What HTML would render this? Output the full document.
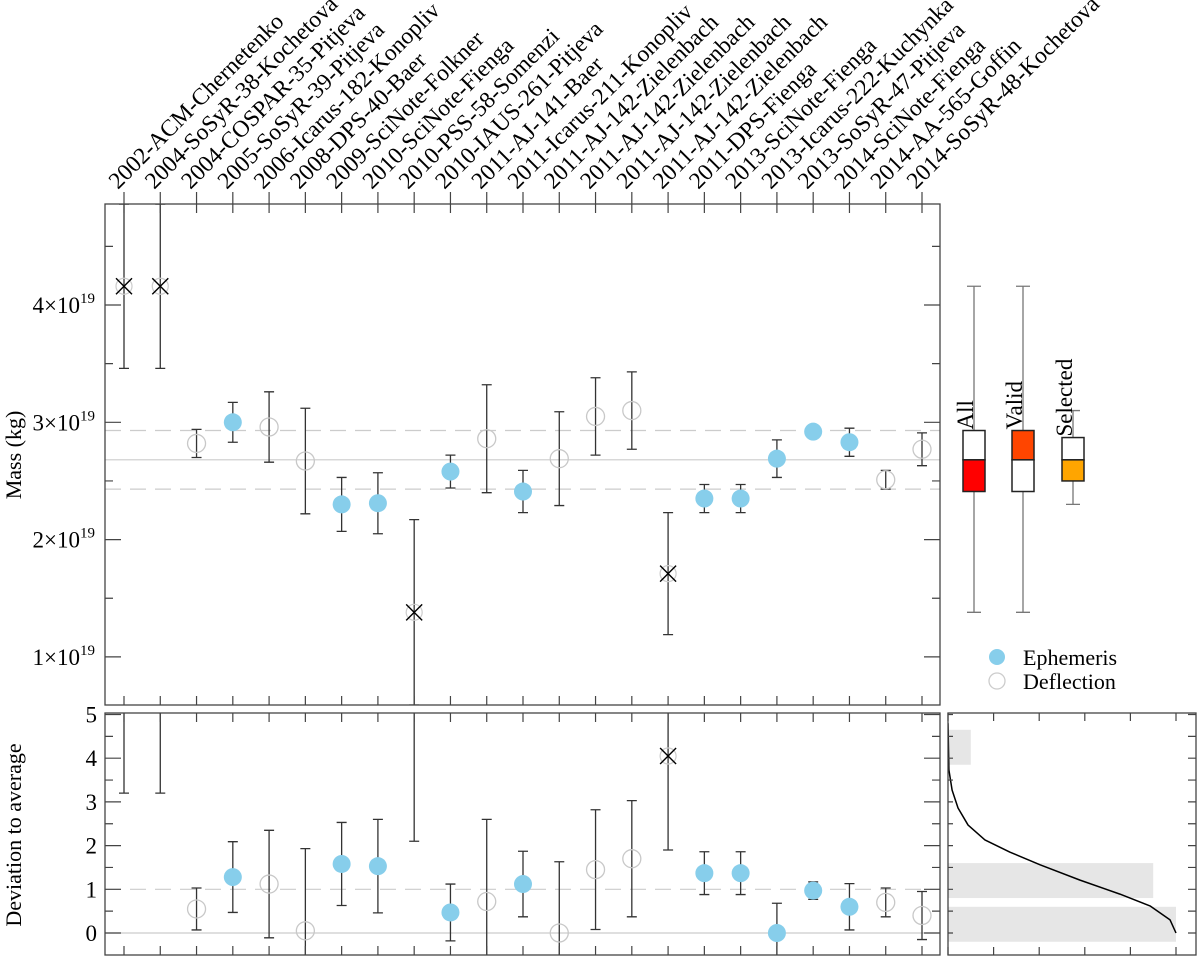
<!DOCTYPE html>
<html><head><meta charset="utf-8"><style>
html,body{margin:0;padding:0;background:#fff;width:1200px;height:960px;overflow:hidden;}
svg{display:block;font-family:"Liberation Serif",serif;}
</style></head><body>
<svg id="chart" width="1200" height="960" viewBox="0 0 1200 960" xmlns="http://www.w3.org/2000/svg">
<g id="g"></g>
</svg>
<script>
const categories=["2002-ACM-Chernetenko","2004-SoSyR-38-Kochetova","2004-COSPAR-35-Pitjeva","2005-SoSyR-39-Pitjeva","2006-Icarus-182-Konopliv","2008-DPS-40-Baer","2009-SciNote-Folkner","2010-SciNote-Fienga","2010-PSS-58-Somenzi","2010-IAUS-261-Pitjeva","2011-AJ-141-Baer","2011-Icarus-211-Konopliv","2011-AJ-142-Zielenbach","2011-AJ-142-Zielenbach","2011-AJ-142-Zielenbach","2011-AJ-142-Zielenbach","2011-DPS-Fienga","2013-SciNote-Fienga","2013-Icarus-222-Kuchynka","2013-SoSyR-47-Pitjeva","2014-SciNote-Fienga","2014-AA-565-Goffin","2014-SoSyR-48-Kochetova"];
// marker type: x = rejected, e = ephemeris, d = deflection
const kinds=["x","x","d","e","d","d","e","e","x","e","d","e","d","d","d","x","e","e","e","e","e","d","d"];
const mass=[4.16,4.16,2.82,3.00,2.96,2.67,2.30,2.31,1.38,2.58,2.86,2.41,2.69,3.05,3.10,1.71,2.35,2.35,2.69,2.92,2.83,2.51,2.77];
const massErr=[0.70,0.70,0.12,0.17,0.30,0.45,0.23,0.26,0.79,0.14,0.46,0.18,0.40,0.33,0.33,0.52,0.12,0.12,0.16,0.01,0.12,0.08,0.14];
const dev=[5.4,5.4,0.55,1.28,1.12,0.05,1.58,1.53,6.0,0.47,0.72,1.12,0.0,1.45,1.70,4.05,1.37,1.37,0.0,0.97,0.60,0.70,0.40];
const devErr=[2.2,2.2,0.48,0.81,1.23,1.88,0.95,1.07,3.9,0.65,1.88,0.75,1.63,1.37,1.33,2.15,0.49,0.49,0.68,0.2,0.53,0.33,0.55];
const massMean=2.68, massLo=2.43, massHi=2.93;
const massTicks=[1,2,3,4];
const devTicks=[0,1,2,3,4,5];
const boxNames=["All","Valid","Selected"];
const boxMin=[1.38,1.38,2.30], boxQ1=[2.41,2.41,2.50], boxMed=[2.68,2.68,2.68], boxQ3=[2.93,2.93,2.87], boxMax=[4.16,4.16,3.10];
const histLo=[-0.2,0.8,3.85], histHi=[0.6,1.6,4.65], histCount=[10,9,1];
const curveDev=[4.8,3.73,3.27,2.86,2.47,2.13,1.85,1.56,1.21,0.89,0.62,0.30,0.0];
const curveCount=[0,0.04,0.18,0.44,0.88,1.62,2.72,4.04,5.79,7.54,8.86,9.74,10];
</script>
<script>
const NS="http://www.w3.org/2000/svg";
const G=document.getElementById('g');
function el(t,a,p){const e=document.createElementNS(NS,t);for(const k in a)e.setAttribute(k,a[k]);(p||G).appendChild(e);return e;}
const L=105,R=940,T1=204,B1=705,T2=713,B2=955;
const xs=i=>124+i*(922-124)/22;
const ym=v=>305-(v-4)*117.3;
const yd=v=>933-v*43.7;
const HX0=948,HX1=1196;
const xc=c=>948+c*22.8;
const defs=el('defs',{});
const c1=el('clipPath',{id:'c1'},defs);el('rect',{x:L,y:T1,width:R-L,height:B1-T1},c1);
const c2=el('clipPath',{id:'c2'},defs);el('rect',{x:L,y:T2,width:R-L,height:B2-T2},c2);
const c3=el('clipPath',{id:'c3'},defs);el('rect',{x:HX0,y:T2,width:HX1-HX0,height:B2-T2},c3);
let e;
e=el('line',{x1:L,x2:R,y1:ym(massMean),y2:ym(massMean),stroke:'#ccc','stroke-width':1.2});

[massLo,massHi].forEach(v=>{e=el('line',{x1:L,x2:R,y1:ym(v),y2:ym(v),stroke:'#ccc','stroke-width':1.2,'stroke-dasharray':'16,9'});
});
e=el('line',{x1:L,x2:R,y1:yd(0),y2:yd(0),stroke:'#ccc','stroke-width':1.2});

e=el('line',{x1:L,x2:R,y1:yd(1),y2:yd(1),stroke:'#ccc','stroke-width':1.2,'stroke-dasharray':'16,9'});

for(let i=0;i<histCount.length;i++){
 e=el('rect',{x:HX0,y:yd(histHi[i]),width:xc(histCount[i])-HX0,height:yd(histLo[i])-yd(histHi[i]),fill:'#e6e6e6'});
 
}
e=el('polyline',{points:curveDev.map((d,i)=>xc(curveCount[i])+','+yd(d)).join(' '),fill:'none',stroke:'#000','stroke-width':1.5,'stroke-linejoin':'round','clip-path':'url(#c3)'});

function drawSeries(vals,errs,ysc,clip,prefix){
 const g=el('g',{'clip-path':'url(#'+clip+')'});
 for(let i=0;i<vals.length;i++){
  const x=xs(i),y=ysc(vals[i]),ya=ysc(vals[i]+errs[i]),yb=ysc(vals[i]-errs[i]);
  e=el('path',{d:`M${x},${ya}V${yb}M${x-5},${ya}H${x+5}M${x-5},${yb}H${x+5}`,stroke:'#333','stroke-width':1.3,fill:'none'},g);
  
  if(kinds[i]==='e'){e=el('circle',{cx:x,cy:y,r:9,fill:'#87ceeb'},g);
   }
  else if(kinds[i]==='d'){e=el('circle',{cx:x,cy:y,r:9,fill:'none',stroke:'#c8c8c8','stroke-width':1.3},g);
   }
  else{el('circle',{cx:x,cy:y,r:8,fill:'none',stroke:'#ccc','stroke-width':1.2},g);
   e=el('path',{d:`M${x-8},${y-8}L${x+8},${y+8}M${x-8},${y+8}L${x+8},${y-8}`,stroke:'#000','stroke-width':1.4},g);
   }
 }
}
drawSeries(mass,massErr,ym,'c1','mass');
drawSeries(dev,devErr,yd,'c2','deviation');
const boxX=[974,1023,1073],boxFill=[['#fff','#ff0000'],['#ff4500','#fff'],['#fff','#ffa500']];
for(let i=0;i<3;i++){
 const x=boxX[i],w=11;
 e=el('path',{d:`M${x},${ym(boxMax[i])}V${ym(boxMin[i])}M${x-7},${ym(boxMax[i])}H${x+7}M${x-7},${ym(boxMin[i])}H${x+7}`,stroke:'#777','stroke-width':1.3});
 
 e=el('rect',{x:x-w,y:ym(boxQ3[i]),width:2*w,height:ym(boxMed[i])-ym(boxQ3[i]),fill:boxFill[i][0],stroke:'#222','stroke-width':1.5});
 
 e=el('rect',{x:x-w,y:ym(boxMed[i]),width:2*w,height:ym(boxQ1[i])-ym(boxMed[i]),fill:boxFill[i][1],stroke:'#222','stroke-width':1.5});
 
 const t=el('text',{transform:`translate(${x-1},${ym(boxQ3[i])-1}) rotate(-90)`,'font-size':23});
 t.textContent=boxNames[i];
 
}
e=el('rect',{x:L,y:T1,width:R-L,height:B1-T1,fill:'none',stroke:'#444','stroke-width':1.3});

e=el('rect',{x:L,y:T2,width:R-L,height:B2-T2,fill:'none',stroke:'#444','stroke-width':1.3});

e=el('rect',{x:HX0,y:T2,width:HX1-HX0,height:B2-T2,fill:'none',stroke:'#444','stroke-width':1.3});

let d='';
for(let i=0;i<categories.length;i++){const x=xs(i);d+=`M${x},${T1}v9M${x},${B1}v-9M${x},${T2}v9M${x},${B2}v-9M${x},${T1}v-12`;}
for(let v=1;v<=4.5;v+=0.5){const y=ym(v);if(y<T1||y>B1)continue;const len=(v%1===0)?16:8;d+=`M${L},${y}h${len}M${R},${y}h-${len}`;}
for(let v=0;v<=5;v+=0.5){const y=yd(v);const len=(v%1===0)?16:8;d+=`M${L},${y}h${len}M${R},${y}h-${len}M${HX1},${y}h-8M${HX0},${y}h5`;}
for(let c=0;c<=10;c+=2){const x=xc(c);d+=`M${x},${T2}v8M${x},${B2}v-8`;}
e=el('path',{d:d,stroke:'#444','stroke-width':1.2,fill:'none'});

massTicks.forEach(v=>{const t=el('text',{x:95,y:ym(v)+8,'text-anchor':'end','font-size':23});
 t.innerHTML=v+'×10<tspan dy="-10" font-size="15">19</tspan>';
 });
devTicks.forEach(v=>{const t=el('text',{x:97,y:yd(v)+8,'text-anchor':'end','font-size':23});t.textContent=v;
 });
categories.forEach((c,i)=>{const t=el('text',{transform:`translate(${xs(i)-6},190) rotate(-45)`,'font-size':23.5});t.textContent=c;
 });
let t=el('text',{transform:'translate(21,455) rotate(-90)','text-anchor':'middle','font-size':22});t.textContent='Mass (kg)';

t=el('text',{transform:'translate(21,835) rotate(-90)','text-anchor':'middle','font-size':22});t.textContent='Deviation to average';

e=el('circle',{cx:997,cy:657,r:8,fill:'#87ceeb'});
t=el('text',{x:1023,y:665,'font-size':22});t.textContent='Ephemeris';
e=el('circle',{cx:997,cy:681,r:8,fill:'none',stroke:'#ccc','stroke-width':1.3});
t=el('text',{x:1023,y:689,'font-size':22});t.textContent='Deflection';
</script>
</body></html>
